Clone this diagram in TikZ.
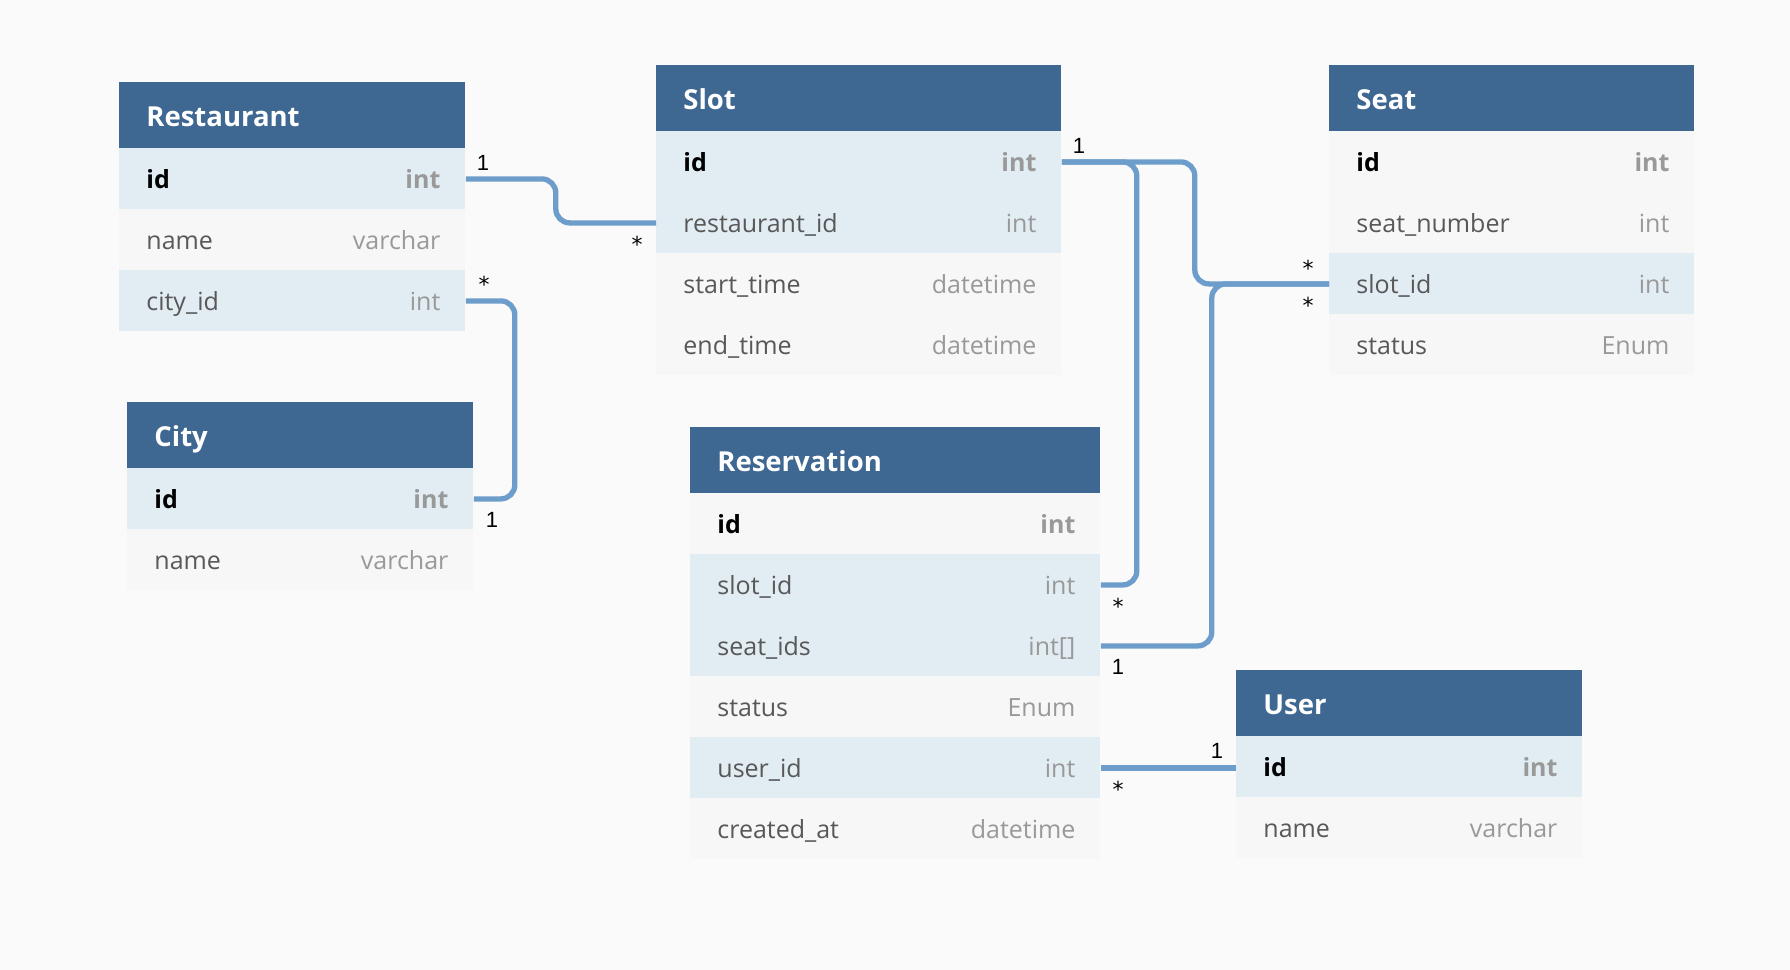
\documentclass[tikz,border=0pt]{standalone}
\usepackage{fontspec}
\setmainfont{Open Sans}
\newfontfamily\cardfont{Liberation Sans}
\newfontfamily\starfont{DejaVu Sans}
\usetikzlibrary{calc}

\definecolor{bgcol}{RGB}{250,250,250}
\definecolor{headblue}{RGB}{62,103,146}
\definecolor{rowblue}{RGB}{225,236,243}
\definecolor{rowgray}{RGB}{247,247,247}
\definecolor{linkblue}{RGB}{108,157,203}
\definecolor{namegray}{RGB}{88,88,88}
\definecolor{typegray}{RGB}{153,153,153}

\begin{document}
\begin{tikzpicture}[x=0.5pt, y=-0.5pt]
% ---------------------------------------------------------
% Dimensions (in pixels of the 1790x970 canvas, y downwards)
% ---------------------------------------------------------
\def\PX{0.5pt}     % one pixel
\def\HeadH{66}     % header height
\def\RowH{61}      % row height

% ---------------------------------------------------------
% Styles
% ---------------------------------------------------------
\tikzset{
  head/.style={fill=headblue, draw=none, anchor=north west,
    minimum height=\HeadH*\PX, inner sep=0pt},
  head text/.style={font=\fontsize{13.75}{16}\selectfont\bfseries,
    text=white, anchor=base west, inner sep=0pt},
  row/.style={draw=none, anchor=north west,
    minimum height=\RowH*\PX, inner sep=0pt},
  fname plain/.style={font=\fontsize{12.5}{15}\selectfont,
    text=namegray, anchor=base west, inner sep=0pt},
  fname pk/.style={font=\fontsize{12.5}{15}\selectfont\bfseries,
    text=black, anchor=base west, inner sep=0pt},
  ftype plain/.style={font=\fontsize{12.5}{15}\selectfont,
    text=typegray, anchor=base east, inner sep=0pt},
  ftype pk/.style={font=\fontsize{12.5}{15}\selectfont\bfseries,
    text=typegray, anchor=base east, inner sep=0pt},
  link/.style={draw=linkblue, line width=2.65pt, rounded corners=7pt},
  card/.style={font=\cardfont\fontsize{11}{13}\selectfont,
    anchor=base, inner sep=0pt},
  card many/.style={font=\starfont\fontsize{11}{13}\selectfont,
    anchor=base, inner sep=0pt}
}

% =========================================================
% 1) CANVAS
% =========================================================
\useasboundingbox (0,0) rectangle (1790,970);
\fill[bgcol] (0,0) rectangle (1790,970);

% =========================================================
% 2) TABLES
% =========================================================
% Restaurant
\node[head, minimum width=346*\PX] (rest-h) at (119,82) {};
\node[head text] (rest-t) at ([xshift=13.5pt, yshift=-5.5pt]rest-h.west) {Restaurant};
\foreach \fName/\fType/\fCol/\fSty [count=\i] in
  {id/int/rowblue/pk, name/varchar/rowgray/plain, city\_id/int/rowblue/plain} {
  \node[row, fill=\fCol, minimum width=346*\PX] (rest-\i) at (119,{148+(\i-1)*\RowH}) {};
  \node[fname \fSty] (rest-\i-n) at ([xshift=13.5pt, yshift=-5pt]rest-\i.west) {\fName};
  \node[ftype \fSty] (rest-\i-t) at ([xshift=-12.5pt, yshift=-5pt]rest-\i.east) {\fType};
}

% City
\node[head, minimum width=346*\PX] (city-h) at (127,402) {};
\node[head text] (city-t) at ([xshift=13.5pt, yshift=-5.5pt]city-h.west) {City};
\foreach \fName/\fType/\fCol/\fSty [count=\i] in
  {id/int/rowblue/pk, name/varchar/rowgray/plain} {
  \node[row, fill=\fCol, minimum width=346*\PX] (city-\i) at (127,{468+(\i-1)*\RowH}) {};
  \node[fname \fSty] (city-\i-n) at ([xshift=13.5pt, yshift=-5pt]city-\i.west) {\fName};
  \node[ftype \fSty] (city-\i-t) at ([xshift=-12.5pt, yshift=-5pt]city-\i.east) {\fType};
}

% Slot
\node[head, minimum width=405*\PX] (slot-h) at (656,65) {};
\node[head text] (slot-t) at ([xshift=13.5pt, yshift=-5.5pt]slot-h.west) {Slot};
\foreach \fName/\fType/\fCol/\fSty [count=\i] in
  {id/int/rowblue/pk, restaurant\_id/int/rowblue/plain,
   start\_time/datetime/rowgray/plain, end\_time/datetime/rowgray/plain} {
  \node[row, fill=\fCol, minimum width=405*\PX] (slot-\i) at (656,{131+(\i-1)*\RowH}) {};
  \node[fname \fSty] (slot-\i-n) at ([xshift=13.5pt, yshift=-5pt]slot-\i.west) {\fName};
  \node[ftype \fSty] (slot-\i-t) at ([xshift=-12.5pt, yshift=-5pt]slot-\i.east) {\fType};
}

% Seat
\node[head, minimum width=365*\PX] (seat-h) at (1329,65) {};
\node[head text] (seat-t) at ([xshift=13.5pt, yshift=-5.5pt]seat-h.west) {Seat};
\foreach \fName/\fType/\fCol/\fSty [count=\i] in
  {id/int/rowgray/pk, seat\_number/int/rowgray/plain,
   slot\_id/int/rowblue/plain, status/Enum/rowgray/plain} {
  \node[row, fill=\fCol, minimum width=365*\PX] (seat-\i) at (1329,{131+(\i-1)*\RowH}) {};
  \node[fname \fSty] (seat-\i-n) at ([xshift=13.5pt, yshift=-5pt]seat-\i.west) {\fName};
  \node[ftype \fSty] (seat-\i-t) at ([xshift=-12.5pt, yshift=-5pt]seat-\i.east) {\fType};
}

% Reservation
\node[head, minimum width=410*\PX] (resv-h) at (690,427) {};
\node[head text] (resv-t) at ([xshift=13.5pt, yshift=-5.5pt]resv-h.west) {Reservation};
\foreach \fName/\fType/\fCol/\fSty [count=\i] in
  {id/int/rowgray/pk, slot\_id/int/rowblue/plain, seat\_ids/int[]/rowblue/plain,
   status/Enum/rowgray/plain, user\_id/int/rowblue/plain, created\_at/datetime/rowgray/plain} {
  \node[row, fill=\fCol, minimum width=410*\PX] (resv-\i) at (690,{493+(\i-1)*\RowH}) {};
  \node[fname \fSty] (resv-\i-n) at ([xshift=13.5pt, yshift=-5pt]resv-\i.west) {\fName};
  \node[ftype \fSty] (resv-\i-t) at ([xshift=-12.5pt, yshift=-5pt]resv-\i.east) {\fType};
}

% User
\node[head, minimum width=346*\PX] (user-h) at (1236,670) {};
\node[head text] (user-t) at ([xshift=13.5pt, yshift=-5.5pt]user-h.west) {User};
\foreach \fName/\fType/\fCol/\fSty [count=\i] in
  {id/int/rowblue/pk, name/varchar/rowgray/plain} {
  \node[row, fill=\fCol, minimum width=346*\PX] (user-\i) at (1236,{736+(\i-1)*\RowH}) {};
  \node[fname \fSty] (user-\i-n) at ([xshift=13.5pt, yshift=-5pt]user-\i.west) {\fName};
  \node[ftype \fSty] (user-\i-t) at ([xshift=-12.5pt, yshift=-5pt]user-\i.east) {\fType};
}

% =========================================================
% 3) RELATIONS
% =========================================================
\draw[link] (rest-1.east) -- ++(90,0) |- (slot-2.west);
\draw[link] (rest-3.east) -- ++(49,0) |- (city-1.east);
\draw[link] (slot-1.east) -- ++(75,0) |- (resv-2.east);
\draw[link] (slot-1.east) -- ++(133,0) |- (seat-3.west);
\draw[link] (resv-3.east) -- ++(111,0) |- (seat-3.west);
\draw[link] (resv-5.east) -- (resv-5.east -| user-1.west);

% Cardinalities
\node[card]      (c-rest-id)   at (483,170)  {1};
\node[card many] (c-slot-rid)  at (637,252)  {*};
\node[card many] (c-rest-cid)  at (484,292)  {*};
\node[card]      (c-city-id)   at (492,527)  {1};
\node[card]      (c-slot-id)   at (1079,153) {1};
\node[card many] (c-resv-sid)  at (1118,614) {*};
\node[card many] (c-seat-sid1) at (1308,276) {*};
\node[card many] (c-seat-sid2) at (1308,313) {*};
\node[card]      (c-resv-seat) at (1118,674) {1};
\node[card many] (c-resv-uid)  at (1118,797) {*};
\node[card]      (c-user-id)   at (1217,758) {1};

\end{tikzpicture}
\end{document}
